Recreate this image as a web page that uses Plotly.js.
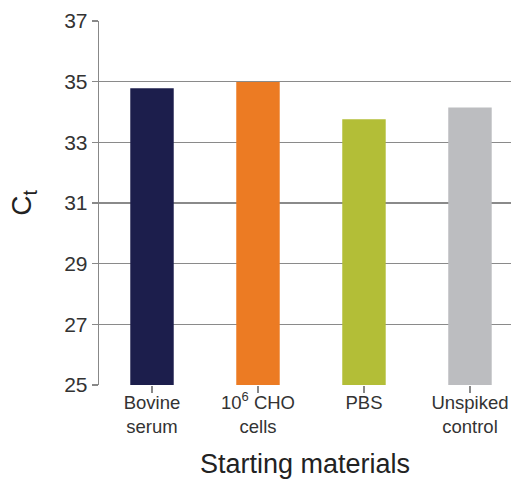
<!DOCTYPE html>
<html>
<head>
<meta charset="utf-8">
<script src="https://cdn.plot.ly/plotly-3.0.1.min.js"></script>
<style>html,body{margin:0;padding:0;background:#fff;}#chart{width:511px;height:479px;}</style>
</head>
<body>
<div id="chart"></div>
<script>
const categories = ["Bovine<br>serum", "10<sup>6</sup> CHO<br>cells", "PBS", "Unspiked<br>control"];
const ctValues = [34.78, 34.99, 33.76, 34.15];
const barColors = ["#1c1e4c", "#ec7b23", "#b3be37", "#bcbdc0"];
const yTicks = [25, 27, 29, 31, 33, 35, 37];
const yBase = 25;

const trace = {
  type: "bar",
  x: [0, 1, 2, 3],
  y: ctValues.map(v => v - yBase),
  base: yBase,
  marker: {color: barColors, line: {width: 0}},
  width: 0.41,
  hoverinfo: "skip"
};

const layout = {
  width: 511, height: 479,
  margin: {l: 99, r: 0, t: 21, b: 94},
  paper_bgcolor: "#fff", plot_bgcolor: "#fff",
  showlegend: false,
  font: {family: "Liberation Sans, Arial, sans-serif", color: "#333"},
  xaxis: {
    range: [-0.5, 3.387],
    tickmode: "array",
    tickvals: [0, 1, 2, 3],
    ticktext: categories,
    tickson: "boundaries",
    ticks: "outside", ticklen: 7, tickwidth: 1.2, tickcolor: "#888",
    ticklabelstandoff: -6,
    showgrid: false, zeroline: false, showline: false,
    tickfont: {size: 18.5, color: "#333"},
    title: {text: "Starting materials", font: {size: 27, color: "#222"}, standoff: 23}
  },
  yaxis: {
    range: [25, 37],
    tickmode: "array", tickvals: yTicks,
    ticks: "outside", ticklen: 6, tickwidth: 1.2, tickcolor: "#888",
    showgrid: true, gridcolor: "#8a8a8a", gridwidth: 1.3,
    zeroline: false,
    showline: true, linecolor: "#888", linewidth: 1.3,
    tickfont: {size: 21, color: "#333"},
    title: {text: "C<sub>t</sub>", font: {size: 28, color: "#222"}, standoff: 24}
  }
};

Plotly.newPlot("chart", [trace], layout, {displayModeBar: false, staticPlot: true});
</script>
</body>
</html>
